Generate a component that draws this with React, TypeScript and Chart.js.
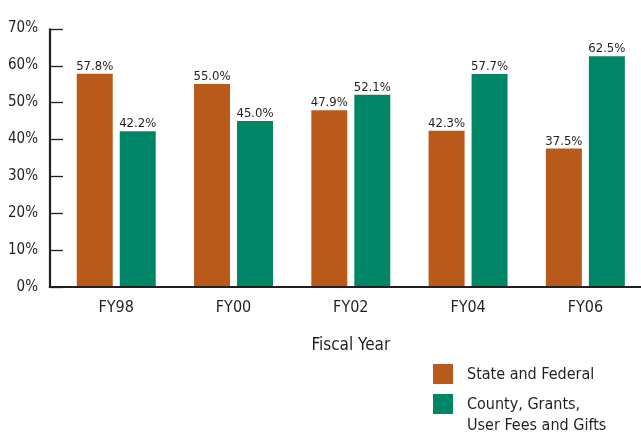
import React, { useEffect, useRef } from 'react';
import { Chart, registerables } from 'chart.js';

Chart.register(...registerables);

const categories = ['FY98', 'FY00', 'FY02', 'FY04', 'FY06'];
const stateFederal = [57.8, 55.0, 47.9, 42.3, 37.5];
const countyGrants = [42.2, 45.0, 52.1, 57.7, 62.5];
const seriesNames: (string | string[])[] = ['State and Federal', ['County, Grants,', 'User Fees and Gifts']];
const seriesColors = ['#B95A1A', '#008566'];
const axisTitle = 'Fiscal Year';
const yMin = 0;
const yMax = 70;
const yStep = 10;

const FONT = "'DejaVu Sans Condensed', 'Liberation Sans Narrow', 'Arial Narrow', sans-serif";
const INK = '#231F20';
const AXIS_GAP = 7.6;

const axesPlugin = {
  id: 'customAxes',
  afterDatasetsDraw(chart: any) {
    const { ctx, chartArea } = chart;
    const y = chart.scales.y;
    const axisX = chartArea.left - AXIS_GAP;
    ctx.save();
    ctx.strokeStyle = INK;
    ctx.lineWidth = 1.3;
    y.ticks.forEach((t: any) => {
      const py = Math.round(y.getPixelForValue(t.value)) + 0.5;
      ctx.beginPath();
      ctx.moveTo(axisX, py);
      ctx.lineTo(axisX + 13, py);
      ctx.stroke();
    });
    ctx.lineWidth = 2.2;
    ctx.beginPath();
    ctx.moveTo(axisX, y.getPixelForValue(yMax));
    ctx.lineTo(axisX, chartArea.bottom + 1);
    ctx.stroke();
    ctx.lineWidth = 2;
    ctx.beginPath();
    ctx.moveTo(axisX - 1.1, chartArea.bottom);
    ctx.lineTo(chart.width, chartArea.bottom);
    ctx.stroke();

    ctx.fillStyle = INK;
    ctx.font = `13px ${FONT}`;
    ctx.textAlign = 'center';
    ctx.textBaseline = 'alphabetic';
    chart.data.datasets.forEach((ds: any, di: number) => {
      const meta = chart.getDatasetMeta(di);
      meta.data.forEach((el: any, i: number) => {
        ctx.fillText(Number(ds.data[i]).toFixed(1) + '%', el.x, el.y - 4);
      });
    });
    ctx.restore();
  },
  afterDraw(chart: any) {
    const { ctx } = chart;
    ctx.save();
    const boxX = 433;
    const textX = 467;
    const rows = [364, 394];
    ctx.font = `16px ${FONT}`;
    ctx.textAlign = 'left';
    ctx.textBaseline = 'middle';
    chart.data.datasets.forEach((ds: any, di: number) => {
      ctx.fillStyle = ds.backgroundColor;
      ctx.fillRect(boxX, rows[di], 20, 20);
      ctx.fillStyle = INK;
      const lines = Array.isArray(ds.label) ? ds.label : [ds.label];
      lines.forEach((ln: string, li: number) => {
        ctx.fillText(ln, textX, rows[di] + 11 + li * 20.5);
      });
    });
    ctx.restore();
  },
};

export default function App() {
  const ref = useRef<HTMLCanvasElement>(null);
  useEffect(() => {
    if (!ref.current) return;
    const chart = new Chart(ref.current, {
      type: 'bar',
      data: {
        labels: categories,
        datasets: [
          { label: seriesNames[0] as any, data: stateFederal, backgroundColor: seriesColors[0] },
          { label: seriesNames[1] as any, data: countyGrants, backgroundColor: seriesColors[1] },
        ],
      },
      options: {
        responsive: false,
        animation: false,
        devicePixelRatio: 1,
        layout: { padding: { top: 22.3, left: 0, right: 0, bottom: 0 } },
        datasets: { bar: { categoryPercentage: 0.733, barPercentage: 0.837 } },
        plugins: { legend: { display: false }, tooltip: { enabled: false } },
        scales: {
          x: {
            grid: { display: false, drawTicks: false },
            border: { display: false },
            ticks: { color: INK, font: { family: FONT, size: 16 }, padding: 11.7, maxRotation: 0 },
            title: {
              display: true,
              text: axisTitle,
              color: INK,
              font: { family: FONT, size: 17 },
              padding: { top: 0, bottom: 79.5 },
            },
            afterFit: (s: any) => { s.height = 148; },
          },
          y: {
            min: yMin,
            max: yMax,
            grid: { display: false, drawTicks: false },
            border: { display: false },
            ticks: {
              stepSize: yStep,
              color: INK,
              font: { family: FONT, size: 15 },
              padding: 19.6,
              callback: (v: any) => v + '%',
            },
            afterFit: (s: any) => { s.width = 57.6; },
          },
        },
      },
      plugins: [axesPlugin],
    });
    return () => chart.destroy();
  }, []);
  return (
    <div style={{ position: 'fixed', left: 0, top: 0, width: 641, height: 435, overflow: 'hidden', background: '#fff' }}>
      <canvas ref={ref} width={644} height={435} />
    </div>
  );
}
